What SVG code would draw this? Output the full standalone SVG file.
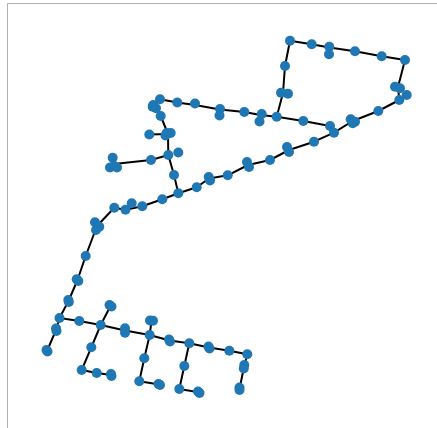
<svg xmlns="http://www.w3.org/2000/svg" width="437" height="428" viewBox="0 0 437 428">
<style>
.frame{fill:none;stroke:#b0b0b0;stroke-width:1}
.e{fill:none;stroke:#000;stroke-width:2;stroke-linejoin:round}
.n circle{fill:#1f77b4}
</style>
<rect width="437" height="428" fill="#fff"/>
<path class="frame" d="M7.5,428 V3.5 H437"/>
<g id="edges">
<polyline class="e" points="290,40.7 311.7,44.3 329.3,47.5 355,51.3 381.7,56.3 405,60"/>
<polyline class="e" points="405,60 398,87 399.3,100"/>
<polyline class="e" points="399.3,100 378.3,111 352.7,121 334,132.7 314,141.7 289,150 270,160 248,165 227.7,175.3 209,178.5 196.7,187.3 178.3,193.3 162.3,199.3 142.3,206.3 125.5,209.7 114.3,207.7 97,226 85.7,256 77.5,280 68.5,301 59.5,318 56,330 47,351"/>
<polyline class="e" points="290,40.7 285,66 283,93 276.7,116.7"/>
<polyline class="e" points="160,99.3 177.3,102.5 195,105 220,109.5 244.3,112 260.5,115 276.7,116.7 303.3,121 330,126 334,132.7"/>
<polyline class="e" points="156,106 160.7,116 168,134 168.3,155 174,175 178.3,193.3"/>
<polyline class="e" points="149.3,134.5 168,134"/>
<polyline class="e" points="168.3,155 151,160 114,164"/>
<polyline class="e" points="59.5,318 79.3,321 100.7,325 125,330.5 149.7,335 169.5,340.5 189.3,343.3 209,347.5 229.3,350.7 247.3,354.3 244,367 239.5,389"/>
<polyline class="e" points="110.5,306 100.7,325 91.3,347.3 81.7,370 96.7,373 111.3,375"/>
<polyline class="e" points="151.5,320.7 149.7,335 144.3,358.3 139.3,381.3 159.3,384.5"/>
<polyline class="e" points="189.3,343.3 184.3,366 179.3,389 198.7,392.3"/>
</g>
<g class="n">
<g id="n1"><circle cx="290" cy="40.7" r="5"/></g>
<g id="n2"><circle cx="311.7" cy="44.3" r="5"/></g>
<g id="n3"><circle cx="329.3" cy="46.7" r="5"/><circle cx="329" cy="54.3" r="5"/></g>
<g id="n4"><circle cx="355" cy="51.3" r="5"/></g>
<g id="n5"><circle cx="381.7" cy="56.3" r="5"/></g>
<g id="n6"><circle cx="405" cy="60" r="5"/></g>
<g id="n7"><circle cx="395" cy="86.7" r="5"/><circle cx="400" cy="88.3" r="5"/></g>
<g id="n8"><circle cx="406.7" cy="95" r="5"/></g>
<g id="n9"><circle cx="399.3" cy="100" r="5"/></g>
<g id="n10"><circle cx="378.3" cy="111" r="5"/></g>
<g id="n11"><circle cx="350.7" cy="119.3" r="5"/><circle cx="355" cy="121.7" r="5"/><circle cx="352.7" cy="123.3" r="5"/></g>
<g id="n12"><circle cx="330" cy="126" r="5"/></g>
<g id="n13"><circle cx="334" cy="132.7" r="5"/></g>
<g id="n14"><circle cx="314" cy="141.7" r="5"/></g>
<g id="n15"><circle cx="287" cy="147" r="5"/><circle cx="289" cy="152" r="5"/></g>
<g id="n16"><circle cx="270" cy="160" r="5"/></g>
<g id="n17"><circle cx="247" cy="162" r="5"/><circle cx="249" cy="167" r="5"/></g>
<g id="n18"><circle cx="227.7" cy="175.3" r="5"/></g>
<g id="n19"><circle cx="208.7" cy="177" r="5"/><circle cx="210" cy="180.5" r="5"/></g>
<g id="n20"><circle cx="196.7" cy="187.3" r="5"/></g>
<g id="n21"><circle cx="178.3" cy="193.3" r="5"/></g>
<g id="n22"><circle cx="162.3" cy="199.3" r="5"/></g>
<g id="n23"><circle cx="142.3" cy="206.3" r="5"/></g>
<g id="n24"><circle cx="131.7" cy="203.3" r="5"/></g>
<g id="n25"><circle cx="125.5" cy="209.7" r="5"/></g>
<g id="n26"><circle cx="114.3" cy="207.7" r="5"/></g>
<g id="n27"><circle cx="95" cy="222.3" r="5"/><circle cx="99.3" cy="226.7" r="5"/><circle cx="96" cy="230" r="5"/></g>
<g id="n28"><circle cx="85.7" cy="256" r="5"/></g>
<g id="n29"><circle cx="76.7" cy="279.3" r="5"/><circle cx="78.3" cy="281" r="5"/></g>
<g id="n30"><circle cx="68.3" cy="300" r="5"/><circle cx="68.8" cy="302" r="5"/></g>
<g id="n31"><circle cx="59.5" cy="318" r="5"/></g>
<g id="n32"><circle cx="56" cy="328.5" r="5"/><circle cx="56.5" cy="331" r="5"/></g>
<g id="n33"><circle cx="46.5" cy="350" r="5"/><circle cx="47.5" cy="351.5" r="5"/></g>
<g id="n34"><circle cx="285" cy="66" r="5"/></g>
<g id="n35"><circle cx="281" cy="92.7" r="5"/><circle cx="288" cy="93.7" r="5"/></g>
<g id="n36"><circle cx="276.7" cy="116.7" r="5"/></g>
<g id="n37"><circle cx="303.3" cy="121" r="5"/></g>
<g id="n38"><circle cx="261.7" cy="114" r="5"/><circle cx="259.5" cy="121.5" r="5"/></g>
<g id="n39"><circle cx="244.3" cy="112" r="5"/></g>
<g id="n40"><circle cx="220" cy="109" r="5"/><circle cx="219.5" cy="115.5" r="5"/></g>
<g id="n41"><circle cx="195" cy="103.5" r="5"/></g>
<g id="n42"><circle cx="177.3" cy="102.5" r="5"/></g>
<g id="n43"><circle cx="160" cy="99.3" r="5"/><circle cx="153.3" cy="105" r="5"/><circle cx="156" cy="108.3" r="5"/><circle cx="152.7" cy="106.7" r="5"/></g>
<g id="n44"><circle cx="160.7" cy="116" r="5"/></g>
<g id="n45"><circle cx="166.7" cy="133" r="5"/><circle cx="170.7" cy="133" r="5"/><circle cx="165.5" cy="135.5" r="5"/></g>
<g id="n46"><circle cx="149.3" cy="134.5" r="5"/></g>
<g id="n47"><circle cx="168.3" cy="155" r="5"/></g>
<g id="n48"><circle cx="178.3" cy="152.5" r="5"/></g>
<g id="n49"><circle cx="151" cy="160" r="5"/></g>
<g id="n50"><circle cx="112.7" cy="157.7" r="5"/><circle cx="110" cy="167.5" r="5"/><circle cx="117" cy="167.5" r="5"/><circle cx="114" cy="166" r="5"/></g>
<g id="n51"><circle cx="174" cy="175" r="5"/></g>
<g id="n52"><circle cx="79.3" cy="321" r="5"/></g>
<g id="n53"><circle cx="100.7" cy="325" r="5"/></g>
<g id="n54"><circle cx="125" cy="328.3" r="5"/><circle cx="125" cy="332.7" r="5"/></g>
<g id="n55"><circle cx="149.7" cy="335" r="5"/></g>
<g id="n56"><circle cx="169" cy="339.5" r="5"/><circle cx="170" cy="341.5" r="5"/></g>
<g id="n57"><circle cx="189.3" cy="343.3" r="5"/></g>
<g id="n58"><circle cx="208.5" cy="346.5" r="5"/><circle cx="209.5" cy="348.5" r="5"/></g>
<g id="n59"><circle cx="229.3" cy="350.7" r="5"/></g>
<g id="n60"><circle cx="247.3" cy="354.3" r="5"/></g>
<g id="n61"><circle cx="244.3" cy="365" r="5"/><circle cx="243.8" cy="368.5" r="5"/></g>
<g id="n62"><circle cx="239.5" cy="387.5" r="5"/><circle cx="239.5" cy="390" r="5"/></g>
<g id="n63"><circle cx="109.5" cy="305" r="5"/><circle cx="111.5" cy="306.5" r="5"/></g>
<g id="n64"><circle cx="91.3" cy="347.3" r="5"/></g>
<g id="n65"><circle cx="81.7" cy="370" r="5"/></g>
<g id="n66"><circle cx="96.7" cy="373" r="5"/></g>
<g id="n67"><circle cx="111" cy="374" r="5"/><circle cx="111.5" cy="376" r="5"/></g>
<g id="n68"><circle cx="150" cy="320.5" r="5"/><circle cx="153" cy="320.8" r="5"/></g>
<g id="n69"><circle cx="144.3" cy="358.3" r="5"/></g>
<g id="n70"><circle cx="139.3" cy="381.3" r="5"/></g>
<g id="n71"><circle cx="158.5" cy="384" r="5"/><circle cx="160" cy="385" r="5"/></g>
<g id="n72"><circle cx="184.3" cy="366" r="5"/></g>
<g id="n73"><circle cx="179.3" cy="389" r="5"/></g>
<g id="n74"><circle cx="198" cy="391.5" r="5"/><circle cx="199.5" cy="393" r="5"/></g>
</g>
</svg>
